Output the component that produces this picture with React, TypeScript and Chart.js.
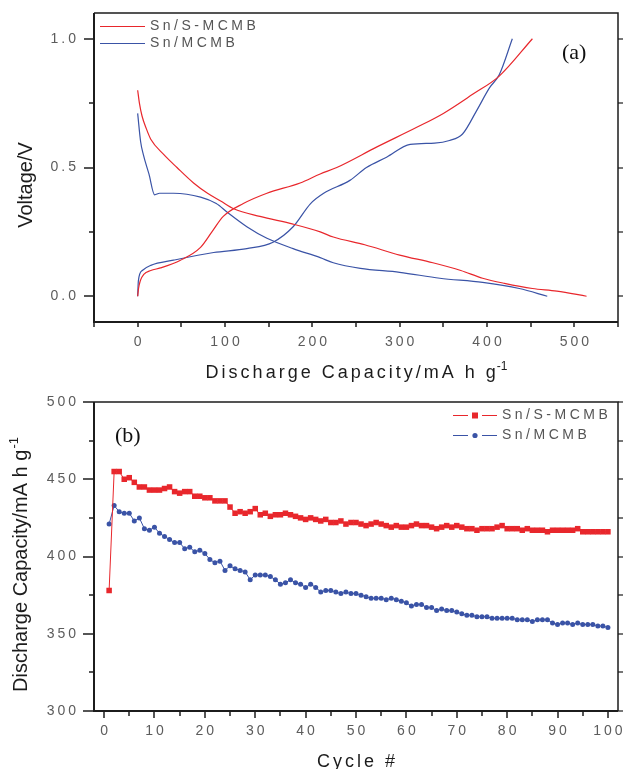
import React, { useEffect, useRef } from "react";
import { Chart, registerables } from "chart.js";

Chart.register(...registerables);

// ---------------- Panel (a): voltage profiles ----------------
const capMajorTicks = [0, 100, 200, 300, 400, 500];
const capMinorTicks = [-50, 50, 150, 250, 350, 450, 550];
const voltMajorTicks = [0, 0.5, 1.0];
const voltMinorTicks = [0.25, 0.75];

// Sn/S-MCMB
const snsDisCap = [0, 2, 5, 10, 15, 30, 45, 64, 80, 95, 110, 140, 178, 209, 224, 260, 300, 338, 370, 395, 420, 452, 480, 514];
const snsDisV = [0.8, 0.75, 0.7, 0.65, 0.61, 0.55, 0.5, 0.44, 0.4, 0.37, 0.34, 0.31, 0.28, 0.25, 0.23, 0.2, 0.16, 0.13, 0.1, 0.07, 0.05, 0.03, 0.02, 0.0];
const snsChgCap = [0, 1, 3, 7, 15, 26, 49, 72, 85, 98, 121, 148, 186, 209, 228, 274, 319, 350, 384, 414, 452];
const snsChgV = [0, 0.03, 0.06, 0.085, 0.1, 0.11, 0.14, 0.19, 0.25, 0.31, 0.36, 0.4, 0.44, 0.475, 0.5, 0.58, 0.655, 0.71, 0.785, 0.855, 1.0];

// Sn/MCMB
const snDisCap = [0, 3.4, 6.5, 12.9, 19.4, 25, 41, 72, 90, 103, 125, 148, 178, 209, 224, 255, 300, 346, 395, 437, 469];
const snDisV = [0.71, 0.6, 0.55, 0.475, 0.394, 0.4, 0.4, 0.385, 0.36, 0.325, 0.27, 0.225, 0.185, 0.15, 0.13, 0.108, 0.093, 0.07, 0.054, 0.03, 0.0];
const snChgCap = [0, 0.8, 5.3, 15, 41, 87, 125, 155, 178, 198, 213, 243, 262, 285, 312, 340, 357, 372, 388, 403, 414, 429];
const snChgV = [0, 0.06, 0.1, 0.12, 0.14, 0.17, 0.185, 0.21, 0.27, 0.36, 0.4, 0.45, 0.5, 0.54, 0.59, 0.595, 0.605, 0.63, 0.72, 0.81, 0.86, 1.0];

// ---------------- Panel (b): cycling ----------------
const cycleMajorTicks = [0, 10, 20, 30, 40, 50, 60, 70, 80, 90, 100];
const cycleMinorTicks = [5, 15, 25, 35, 45, 55, 65, 75, 85, 95];
const capacityMajorTicks = [300, 350, 400, 450, 500];
const capacityMinorTicks = [325, 375, 425, 475];

const cycles = [
  1, 2, 3, 4, 5, 6, 7, 8, 9, 10, 11, 12, 13, 14, 15, 16, 17, 18, 19, 20,
  21, 22, 23, 24, 25, 26, 27, 28, 29, 30, 31, 32, 33, 34, 35, 36, 37, 38, 39, 40,
  41, 42, 43, 44, 45, 46, 47, 48, 49, 50, 51, 52, 53, 54, 55, 56, 57, 58, 59, 60,
  61, 62, 63, 64, 65, 66, 67, 68, 69, 70, 71, 72, 73, 74, 75, 76, 77, 78, 79, 80,
  81, 82, 83, 84, 85, 86, 87, 88, 89, 90, 91, 92, 93, 94, 95, 96, 97, 98, 99, 100,
];

const snsCapacity = [
  378, 455, 455, 450, 451, 448, 445, 445, 443, 443, 443, 444, 445, 442, 441, 442, 442, 439, 439, 438,
  438, 436, 436, 436, 432, 428, 429, 428, 429, 431, 427, 428, 426, 427, 427, 428, 427, 426, 425, 424,
  425, 424, 423, 424, 422, 422, 423, 421, 422, 422, 421, 420, 421, 422, 421, 420, 419, 420, 419, 419,
  420, 421, 420, 420, 419, 418, 419, 420, 419, 420, 419, 418, 418, 417, 418, 418, 418, 419, 420, 418,
  418, 418, 417, 418, 417, 417, 417, 416, 417, 417, 417, 417, 417, 418, 416, 416, 416, 416, 416, 416,
];

const snCapacity = [
  421, 433, 429, 428, 428, 423, 425, 418, 417, 419, 415, 413, 411, 409, 409, 405, 406, 403, 404, 402,
  398, 396, 397, 391, 394, 392, 391, 390, 385, 388, 388, 388, 387, 385, 382, 383, 385, 383, 382, 380,
  382, 380, 377, 378, 378, 377, 376, 377, 376, 376, 375, 374, 373, 373, 373, 372, 373, 372, 371, 370,
  368, 369, 369, 367, 367, 365, 366, 365, 365, 364, 363, 362, 362, 361, 361, 361, 360, 360, 360, 360,
  360, 359, 359, 359, 358, 359, 359, 359, 357, 356, 357, 357, 356, 357, 356, 356, 356, 355, 355, 354,
];

// ---------------- styling ----------------
const W = 623;
const TOP_H = 385;
const BOT_H = 384;
const SANS = "'Liberation Sans', Arial, Helvetica, sans-serif";
const SERIF = "'Liberation Serif', 'Times New Roman', serif";
const RED = "#e8272c";
const BLUE = "#3a53a6";
const INK = "#1c1c1c";
const TICK_TEXT = "#5c5c5c";

type Deco = {
  name: string;
  xMajor: number[];
  xMinor: number[];
  xMajorLen: number;
  xMinorLen: number;
  yMajor: number[];
  yMinor: number[];
  yMajorLen: number;
  yMinorLen: number;
  rightLen: number;
  xTitle: string;
  xTitleBaseline: number;
  xTitleSup: boolean;
  yTitle: string;
  yTitleBaselineX: number;
  yTitleCenterY: number;
  yTitleSup: boolean;
  panel: string;
  panelX: number;
  panelY: number;
  legend: (ctx: CanvasRenderingContext2D) => void;
};

function setSpacing(ctx: CanvasRenderingContext2D, px: number) {
  (ctx as any).letterSpacing = px + "px";
}

function drawTitle(
  ctx: CanvasRenderingContext2D,
  main: string,
  sup: boolean,
  font: string,
  supFont: string,
  spacing: number,
  supRise: number
) {
  ctx.font = font;
  setSpacing(ctx, spacing);
  const wMain = ctx.measureText(main).width;
  let wSup = 0;
  if (sup) {
    ctx.font = supFont;
    setSpacing(ctx, 0);
    wSup = ctx.measureText("-1").width;
  }
  const total = wMain + wSup;
  const start = -total / 2 + spacing / 2;
  ctx.font = font;
  setSpacing(ctx, spacing);
  ctx.textAlign = "left";
  ctx.textBaseline = "alphabetic";
  ctx.fillText(main, start, 0);
  if (sup) {
    ctx.font = supFont;
    setSpacing(ctx, 0);
    ctx.fillText("-1", start + wMain - spacing + 1, -supRise);
  }
}

function decoPlugin(d: Deco) {
  return {
    id: "deco_" + d.name,
    beforeDraw(chart: any) {
      setSpacing(chart.ctx, 3);
    },
    afterDraw(chart: any) {
      const ctx: CanvasRenderingContext2D = chart.ctx;
      const a = chart.chartArea;
      const xs = chart.scales.x;
      const ys = chart.scales.y;
      ctx.save();
      setSpacing(ctx, 0);
      ctx.strokeStyle = INK;
      // frame
      ctx.lineWidth = 2;
      ctx.beginPath();
      ctx.moveTo(a.left, a.top);
      ctx.lineTo(a.left, a.bottom);
      ctx.lineTo(a.right, a.bottom);
      ctx.stroke();
      ctx.lineWidth = 1.5;
      ctx.beginPath();
      ctx.moveTo(a.left, a.top);
      ctx.lineTo(a.right, a.top);
      ctx.lineTo(a.right, a.bottom);
      ctx.stroke();
      // ticks
      const seg = (x1: number, y1: number, x2: number, y2: number, w: number) => {
        ctx.lineWidth = w;
        ctx.beginPath();
        ctx.moveTo(x1, y1);
        ctx.lineTo(x2, y2);
        ctx.stroke();
      };
      d.xMajor.forEach((v) => {
        const x = Math.round(xs.getPixelForValue(v));
        seg(x, a.bottom, x, a.bottom + d.xMajorLen, 1.5);
      });
      d.xMinor.forEach((v) => {
        const x = Math.round(xs.getPixelForValue(v));
        seg(x, a.bottom, x, a.bottom + d.xMinorLen, 1.5);
      });
      d.yMajor.forEach((v) => {
        const y = Math.round(ys.getPixelForValue(v));
        seg(a.left - d.yMajorLen, y, a.left, y, 1.5);
        seg(a.right, y, a.right + d.rightLen, y, 1.2);
      });
      d.yMinor.forEach((v) => {
        const y = Math.round(ys.getPixelForValue(v));
        seg(a.left - d.yMinorLen, y, a.left, y, 1.5);
        seg(a.right, y, a.right + d.rightLen, y, 1.2);
      });

      // axis titles
      ctx.fillStyle = INK;
      const cx = (a.left + a.right) / 2;
      ctx.save();
      ctx.translate(cx, d.xTitleBaseline);
      drawTitle(ctx, d.xTitle, d.xTitleSup, `18px ${SANS}`, `12px ${SANS}`, 3, 8);
      ctx.restore();

      ctx.save();
      ctx.translate(d.yTitleBaselineX, d.yTitleCenterY);
      ctx.rotate(-Math.PI / 2);
      drawTitle(ctx, d.yTitle, d.yTitleSup, `20px ${SANS}`, `13px ${SANS}`, 0, 9);
      ctx.restore();

      // panel label
      ctx.font = `22px ${SERIF}`;
      setSpacing(ctx, 0);
      ctx.textAlign = "left";
      ctx.textBaseline = "middle";
      ctx.fillStyle = "#111";
      ctx.fillText(d.panel, d.panelX, d.panelY);

      // legend
      d.legend(ctx);
      ctx.restore();
    },
  };
}

function legendText(ctx: CanvasRenderingContext2D, text: string, x: number, y: number) {
  ctx.font = `14px ${SANS}`;
  setSpacing(ctx, 3.5);
  ctx.fillStyle = "#555";
  ctx.textAlign = "left";
  ctx.textBaseline = "middle";
  ctx.fillText(text, x, y);
  setSpacing(ctx, 0);
}

function legendA(ctx: CanvasRenderingContext2D) {
  const rows: [string, string, number][] = [
    ["Sn/S-MCMB", RED, 26],
    ["Sn/MCMB", BLUE, 43],
  ];
  rows.forEach(([label, color, y]) => {
    ctx.strokeStyle = color;
    ctx.lineWidth = 1.2;
    ctx.beginPath();
    ctx.moveTo(100, y + 0.5);
    ctx.lineTo(145, y + 0.5);
    ctx.stroke();
    legendText(ctx, label, 150, y);
  });
}

function legendB(ctx: CanvasRenderingContext2D) {
  const rows: [string, string, number, string][] = [
    ["Sn/S-MCMB", RED, 30, "rect"],
    ["Sn/MCMB", BLUE, 50, "circle"],
  ];
  rows.forEach(([label, color, y, shape]) => {
    ctx.strokeStyle = color;
    ctx.fillStyle = color;
    ctx.lineWidth = 1;
    ctx.beginPath();
    ctx.moveTo(453, y + 0.5);
    ctx.lineTo(468, y + 0.5);
    ctx.moveTo(482, y + 0.5);
    ctx.lineTo(497, y + 0.5);
    ctx.stroke();
    if (shape === "rect") {
      ctx.fillRect(472, y - 2.5, 6, 6);
    } else {
      ctx.beginPath();
      ctx.arc(475, y + 0.5, 2.6, 0, Math.PI * 2);
      ctx.fill();
    }
    legendText(ctx, label, 502, y);
  });
}

const tickFont = { family: SANS, size: 14 };

function axisX(min: number, max: number, major: number[], height: number, fmt: (v: number) => string) {
  return {
    type: "linear" as const,
    position: "bottom" as const,
    min,
    max,
    grid: { display: false, drawTicks: false },
    border: { display: false },
    ticks: {
      font: tickFont,
      color: TICK_TEXT,
      padding: 12,
      labelOffset: 1.5,
      maxRotation: 0,
      autoSkip: false,
      callback: (v: any) => fmt(Number(v)),
    },
    afterBuildTicks: (s: any) => {
      s.ticks = major.map((v) => ({ value: v }));
    },
    afterFit: (s: any) => {
      s.height = height;
      s.paddingLeft = 0;
      s.paddingRight = 0;
      s.paddingTop = 0;
      s.paddingBottom = 0;
    },
  };
}

function axisY(min: number, max: number, major: number[], width: number, fmt: (v: number) => string) {
  return {
    type: "linear" as const,
    position: "left" as const,
    min,
    max,
    grid: { display: false, drawTicks: false },
    border: { display: false },
    ticks: {
      font: tickFont,
      color: TICK_TEXT,
      padding: 15,
      autoSkip: false,
      callback: (v: any) => fmt(Number(v)),
    },
    afterBuildTicks: (s: any) => {
      s.ticks = major.map((v) => ({ value: v }));
    },
    afterFit: (s: any) => {
      s.width = width;
      s.paddingLeft = 0;
      s.paddingRight = 0;
      s.paddingTop = 0;
      s.paddingBottom = 0;
    },
  };
}

function pts(xs: number[], ys: number[]) {
  return xs.map((x, i) => ({ x, y: ys[i] }));
}

export default function App() {
  const topRef = useRef<HTMLCanvasElement | null>(null);
  const botRef = useRef<HTMLCanvasElement | null>(null);

  useEffect(() => {
    if (!topRef.current || !botRef.current) return;

    const lineDs = (label: string, data: any[], color: string) => ({
      label,
      data,
      borderColor: color,
      backgroundColor: color,
      borderWidth: 1.2,
      pointRadius: 0,
      showLine: true,
      cubicInterpolationMode: "monotone",
      fill: false,
    });

    const top = new Chart(topRef.current, {
      type: "scatter",
      data: {
        datasets: [
          lineDs("Sn/S-MCMB discharge", pts(snsDisCap, snsDisV), RED),
          lineDs("Sn/S-MCMB charge", pts(snsChgCap, snsChgV), RED),
          lineDs("Sn/MCMB discharge", pts(snDisCap, snDisV), BLUE),
          lineDs("Sn/MCMB charge", pts(snChgCap, snChgV), BLUE),
        ],
      },
      options: {
        responsive: false,
        animation: false,
        layout: { padding: { top: 13, right: 5, left: 0, bottom: 0 } },
        plugins: { legend: { display: false }, tooltip: { enabled: false } },
        scales: {
          x: axisX(-50, 550, capMajorTicks, TOP_H - 322, (v) => String(v)),
          y: axisY(-0.1, 1.1, voltMajorTicks, 94, (v) => v.toFixed(1)),
        },
      },
      plugins: [
        decoPlugin({
          name: "a",
          xMajor: capMajorTicks,
          xMinor: capMinorTicks,
          xMajorLen: 5,
          xMinorLen: 5,
          yMajor: voltMajorTicks,
          yMinor: voltMinorTicks,
          yMajorLen: 10,
          yMinorLen: 5,
          rightLen: 5,
          xTitle: "Discharge Capacity/mA h g",
          xTitleBaseline: 378,
          xTitleSup: true,
          yTitle: "Voltage/V",
          yTitleBaselineX: 32,
          yTitleCenterY: 185,
          yTitleSup: false,
          panel: "(a)",
          panelX: 562,
          panelY: 53,
          legend: legendA,
        }),
      ],
    } as any);

    const bot = new Chart(botRef.current, {
      type: "scatter",
      data: {
        datasets: [
          {
            label: "Sn/S-MCMB",
            data: pts(cycles, snsCapacity),
            borderColor: RED,
            backgroundColor: RED,
            borderWidth: 1,
            showLine: true,
            pointStyle: "rect",
            pointRadius: 3.9,
            pointBorderWidth: 0,
            pointBackgroundColor: RED,
          },
          {
            label: "Sn/MCMB",
            data: pts(cycles, snCapacity),
            borderColor: BLUE,
            backgroundColor: BLUE,
            borderWidth: 1,
            showLine: true,
            pointStyle: "circle",
            pointRadius: 2.5,
            pointBorderWidth: 0,
            pointBackgroundColor: BLUE,
          },
        ],
      },
      options: {
        responsive: false,
        animation: false,
        layout: { padding: { top: 17, right: 5, left: 0, bottom: 0 } },
        plugins: { legend: { display: false }, tooltip: { enabled: false } },
        scales: {
          x: axisX(-2, 102, cycleMajorTicks, BOT_H - 326, (v) => String(v)),
          y: axisY(300, 500, capacityMajorTicks, 94, (v) => String(v)),
        },
      },
      plugins: [
        decoPlugin({
          name: "b",
          xMajor: cycleMajorTicks,
          xMinor: cycleMinorTicks,
          xMajorLen: 7,
          xMinorLen: 5,
          yMajor: capacityMajorTicks,
          yMinor: capacityMinorTicks,
          yMajorLen: 11,
          yMinorLen: 5,
          rightLen: 5,
          xTitle: "Cycle #",
          xTitleBaseline: 382,
          xTitleSup: false,
          yTitle: "Discharge Capacity/mA h g",
          yTitleBaselineX: 27,
          yTitleCenterY: 180,
          yTitleSup: true,
          panel: "(b)",
          panelX: 115,
          panelY: 51,
          legend: legendB,
        }),
      ],
    } as any);

    return () => {
      top.destroy();
      bot.destroy();
    };
  }, []);

  return (
    <div style={{ position: "absolute", left: 0, top: 0, width: W, height: TOP_H + BOT_H, background: "#fff" }}>
      <canvas ref={topRef} width={W} height={TOP_H} style={{ display: "block", width: W, height: TOP_H }} />
      <canvas ref={botRef} width={W} height={BOT_H} style={{ display: "block", width: W, height: BOT_H }} />
    </div>
  );
}
